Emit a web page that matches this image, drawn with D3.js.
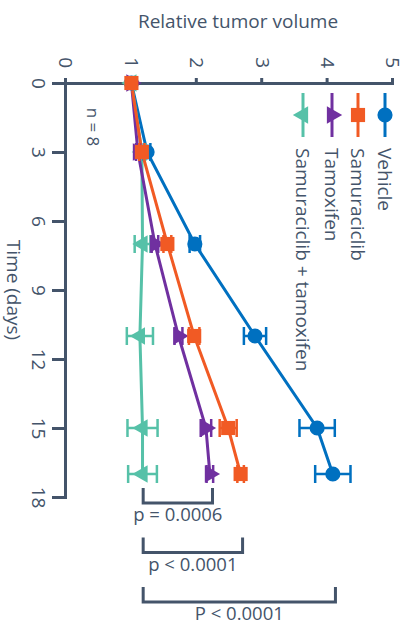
<!DOCTYPE html>
<html>
<head>
<meta charset="utf-8">
<title>Relative tumor volume</title>
<style>
  body { margin: 0; background: #fff; }
  svg text { font-family: "Open Sans", sans-serif; fill: #44546a; }
</style>
</head>
<body>
<svg id="chart" width="410" height="626"></svg>
<script src="https://d3js.org/d3.v7.min.js"></script>
<script>
// data
var days = [0, 3, 7, 11, 15, 17];
var dayTicks = [0, 3, 6, 9, 12, 15, 18];
var volumeTicks = [0, 1, 2, 3, 4, 5];

var vehicle      = [1.0, 1.24, 1.97, 2.89, 3.84, 4.08];
var vehicleErr   = [0, 0.05, 0.08, 0.17, 0.27, 0.27];
var samura       = [1.0, 1.16, 1.55, 1.96, 2.48, 2.67];
var samuraErr    = [0, 0.04, 0.06, 0.08, 0.13, 0.05];
var tamox        = [1.0, 1.10, 1.36, 1.72, 2.14, 2.20];
var tamoxErr     = [0, 0.03, 0.05, 0.06, 0.08, 0.05];
var combo        = [1.0, 1.16, 1.17, 1.13, 1.17, 1.17];
var comboErr     = [0, 0.04, 0.12, 0.20, 0.23, 0.22];

var brackets = [
  {from: 1.18, to: 2.24, label: "p = 0.0006"},
  {from: 1.18, to: 2.70, label: "p < 0.0001"},
  {from: 1.18, to: 4.12, label: "P < 0.0001"}
];

var axisColor = "#44546a";
var fontSize = "19px";

var series = [
  {name: "Vehicle", values: vehicle, err: vehicleErr, color: "#0070c0", shape: "circle"},
  {name: "Samuraciclib", values: samura, err: samuraErr, color: "#f15a24", shape: "square"},
  {name: "Tamoxifen", values: tamox, err: tamoxErr, color: "#7030a0", shape: "triUp"},
  {name: "Samuraciclib + tamoxifen", values: combo, err: comboErr, color: "#56c1a8", shape: "triDown"}
];
var drawOrder = [0, 3, 2, 1];

var svg = d3.select("#chart");

// the whole plot is turned a quarter turn clockwise
var g = svg.append("g").attr("transform", "translate(410,0) rotate(90)");

var x = d3.scaleLinear().domain([0, 18]).range([83, 497]);
var y = d3.scaleLinear().domain([0, 5]).range([344, 17]);

function symbolPath(shape) {
  var s = d3.symbol();
  if (shape == "circle") s.type(d3.symbolCircle).size(180);
  else if (shape == "square") s.type(d3.symbolSquare).size(200);
  else s.type(d3.symbolTriangle).size(135);
  return s();
}
function symbolRot(shape) {
  return shape == "triDown" ? " rotate(180)" : "";
}

// axes
var xAxis = g.append("g")
  .attr("transform", "translate(0,344)")
  .call(d3.axisBottom(x).tickValues(dayTicks).tickSize(14).tickSizeOuter(0).tickPadding(7));
var yAxis = g.append("g")
  .attr("transform", "translate(83,0)")
  .call(d3.axisLeft(y).tickValues(volumeTicks).tickFormat(d3.format("d"))
    .tickSize(5).tickSizeOuter(0).tickPadding(10));

[xAxis, yAxis].forEach(function(a) {
  a.select(".domain").attr("stroke", axisColor).attr("stroke-width", 3).attr("stroke-linecap", "square");
  a.selectAll(".tick line").attr("stroke", axisColor).attr("stroke-width", 3);
  a.selectAll(".tick text").attr("fill", axisColor).style("font-size", fontSize)
    .style("font-family", "Open Sans, sans-serif");
});

g.append("text")
  .attr("x", x(9)).attr("y", 403)
  .attr("text-anchor", "middle")
  .style("font-size", fontSize)
  .text("Time (days)");

g.append("text")
  .attr("x", 127).attr("y", 317)
  .attr("dy", "0.35em")
  .attr("text-anchor", "middle")
  .style("font-size", "17px")
  .text("n = 8");

// lines
var line = d3.line()
  .x(function(d, i) { return x(days[i]); })
  .y(function(d) { return y(d); });

drawOrder.forEach(function(k) {
  var s = series[k];
  g.append("path")
    .datum(s.values)
    .attr("d", line)
    .attr("fill", "none")
    .attr("stroke", s.color)
    .attr("stroke-width", 3);
});

// error bars and markers
drawOrder.forEach(function(k) {
  var s = series[k];
  var eb = g.append("g").attr("stroke", s.color).attr("stroke-width", 2.5).attr("fill", "none");
  s.values.forEach(function(v, i) {
    var e = s.err[i];
    if (!e) return;
    var cx = x(days[i]);
    eb.append("path")
      .attr("d", "M" + cx + "," + y(v - e) + "V" + y(v + e) +
        "M" + (cx - 9) + "," + y(v - e) + "H" + (cx + 9) +
        "M" + (cx - 9) + "," + y(v + e) + "H" + (cx + 9));
  });
  g.append("g").selectAll("path")
    .data(s.values)
    .enter().append("path")
    .attr("d", symbolPath(s.shape))
    .attr("transform", function(d, i) { return "translate(" + x(days[i]) + "," + y(d) + ")" + symbolRot(s.shape); })
    .attr("fill", s.color);
});

// legend
var legendY = [25, 52, 78, 107];
series.forEach(function(s, k) {
  var lg = g.append("g").attr("transform", "translate(0," + legendY[k] + ")");
  lg.append("line").attr("x1", 93).attr("x2", 137)
    .attr("stroke", s.color).attr("stroke-width", 3);
  lg.append("path").attr("d", symbolPath(s.shape))
    .attr("transform", "translate(115,0)" + symbolRot(s.shape))
    .attr("fill", s.color);
  lg.append("text").attr("x", 148).attr("dy", "0.35em")
    .style("font-size", fontSize)
    .text(s.name);
});

// unrotated parts: value-axis title and significance brackets
var vx = d3.scaleLinear().domain([0, 5]).range([410 - 344, 410 - 17]);

svg.append("text")
  .attr("x", 238).attr("y", 28)
  .attr("text-anchor", "middle")
  .style("font-size", fontSize)
  .text("Relative tumor volume");

brackets.forEach(function(b, i) {
  var base = x(18) + 6 + i * 49.5;
  svg.append("path")
    .attr("d", "M" + vx(b.from) + "," + (base - 15) + "V" + base + "H" + vx(b.to) + "V" + (base - 15))
    .attr("fill", "none").attr("stroke", axisColor).attr("stroke-width", 3);
  svg.append("text")
    .attr("x", (vx(b.from) + vx(b.to)) / 2).attr("y", base + 18)
    .attr("text-anchor", "middle")
    .style("font-size", "18.5px")
    .text(b.label);
});
</script>
</body>
</html>
